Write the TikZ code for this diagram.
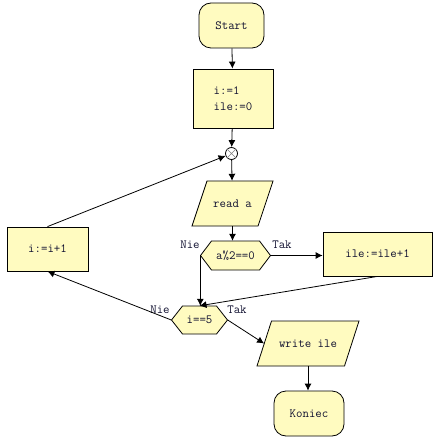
\documentclass[tikz,border=0pt]{standalone}
\usepackage{fontspec}
\usetikzlibrary{arrows.meta}
\definecolor{boxfill}{HTML}{FFFBC0}
\definecolor{txt}{HTML}{101030}
\newcommand{\hexshape}[4]{%
  \draw[shapeline] (#1-#3,#2) -- (#1-#3+11,#2-#4) -- (#1+#3-11,#2-#4) -- (#1+#3,#2) -- (#1+#3-11,#2+#4) -- (#1-#3+11,#2+#4) -- cycle;}
\newcommand{\paralshape}[5]{%
  \draw[shapeline] (#1-#3-#5,#2+#4) -- (#1-#3+#5,#2-#4) -- (#1+#3+#5,#2-#4) -- (#1+#3-#5,#2+#4) -- cycle;}
\begin{document}
\begin{tikzpicture}[x=1pt,y=-1pt,
  every node/.style={font=\ttfamily\fontsize{12.5}{16}\selectfont, text=txt, inner sep=0pt},
  shapeline/.style={draw=black, line width=0.8pt, fill=boxfill},
  procbox/.style={shapeline, rectangle},
  termbox/.style={shapeline, rectangle, rounded corners=12pt},
  plain/.style={draw=none},
  conn/.style={draw=black, line width=0.8pt, -{Latex[length=7pt,width=7pt]}},
  lbl/.style={}
]
\useasboundingbox (0,0) rectangle (436,443);

% terminators and process boxes
\node[termbox, minimum width=65pt, minimum height=45pt] (start) at (231.5,25.5) {Start};
\node[procbox, minimum width=80pt, minimum height=59pt, align=left] (init) at (233,98.5) {i:=1\\ile:=0};
\node[circle, draw=black, line width=0.8pt, fill=white, minimum size=12pt] (join) at (231.5,153.5) {};
\draw[gray, line width=0.6pt] (join.45) -- (join.225) (join.135) -- (join.315);

\paralshape{232.5}{203.5}{33}{22.5}{7.5}
\node[plain, minimum width=66pt, minimum height=45pt] (read) at (232.5,203.5) {read a};

\hexshape{235.5}{255.5}{35}{14.5}
\node[plain, minimum width=70pt, minimum height=29pt] (even) at (235.5,255.5) {a\%2==0};

\node[procbox, minimum width=109pt, minimum height=44pt] (inc) at (377.5,254) {ile:=ile+1};

\hexshape{199.5}{320}{28}{14}
\node[plain, minimum width=56pt, minimum height=28pt] (five) at (199.5,320) {i==5};

\node[procbox, minimum width=81pt, minimum height=44pt] (step) at (47.5,249) {i:=i+1};

\paralshape{308}{343.5}{43.75}{22.5}{7.25}
\node[plain, minimum width=87.5pt, minimum height=45pt] (write) at (308,343.5) {write ile};

\node[termbox, minimum width=70pt, minimum height=45pt] (end) at (309,413.5) {Koniec};

% labels
\node[lbl] (nie1) at (190,245) {Nie};
\node[lbl] (tak1) at (282,245) {Tak};
\node[lbl] (nie2) at (160,310) {Nie};
\node[lbl] (tak2) at (237,310) {Tak};

% connectors
\draw[conn] (start) -- (init);
\draw[conn] (init) -- (join);
\draw[conn] (join) -- (read);
\draw[conn] (read.south) -- (read.south |- even.north);
\draw[conn] (even.east) -- (inc.west |- even.east);
\draw[conn] (even.west) -- (even.west |- five.north);
\draw[conn] (inc.south) -- (five.north);
\draw[conn] (five.west) -- (step.south);
\draw[conn] (step.north) -- (join);
\draw[conn] (five.east) -- (write.west);
\draw[conn] (write.south) -- (write.south |- end.north);
\end{tikzpicture}
\end{document}
